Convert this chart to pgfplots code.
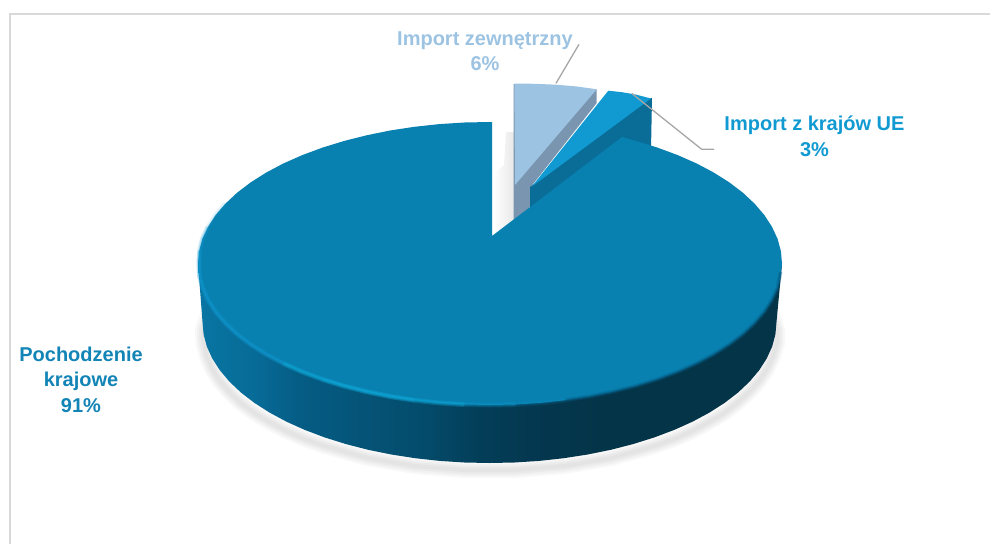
\documentclass[border=0pt]{standalone}
\usepackage{pgfplots}
\pgfplotsset{compat=1.18}
\usepackage{fontspec}
\setmainfont{Liberation Sans}
\definecolor{mainc}{RGB}{8,128,176}
\definecolor{blueC}{RGB}{17,154,210}
\definecolor{blueW}{RGB}{10,109,152}
\definecolor{lightC}{RGB}{157,195,226}
\definecolor{lightW}{RGB}{122,149,176}
\definecolor{leader}{RGB}{166,166,166}
\definecolor{frameC}{RGB}{217,217,217}
\definecolor{labMain}{RGB}{18,132,181}
\definecolor{w0}{RGB}{9,118,163}
\definecolor{w1}{RGB}{7,106,150}
\definecolor{w2}{RGB}{5,92,132}
\definecolor{w3}{RGB}{5,84,120}
\definecolor{w4}{RGB}{4,76,108}
\definecolor{w5}{RGB}{3,62,88}
\definecolor{w6}{RGB}{4,56,80}
\definecolor{w7}{RGB}{4,52,72}
\definecolor{g0}{RGB}{255,255,255}
\definecolor{g1}{RGB}{232,232,232}
\pgfdeclarehorizontalshading{wall}{100bp}{color(0bp)=(w0);color(25bp)=(w0);color(30.3bp)=(w1);color(33.7bp)=(w2);color(38.9bp)=(w3);color(44bp)=(w4);color(49.1bp)=(w5);color(53.4bp)=(w6);color(59.4bp)=(w7);color(100bp)=(w7)}
\pgfdeclarehorizontalshading{gapsh}{100bp}{color(0bp)=(g0);color(25bp)=(g0);color(75bp)=(g1);color(100bp)=(g1)}
\begin{document}
\begin{tikzpicture}
\path (0pt,0pt) rectangle (990pt,544pt);
\begin{axis}[at={(0pt,0pt)},anchor=south west,width=990pt,height=544pt,scale only axis,
  xmin=0,xmax=990,ymin=0,ymax=544,y dir=reverse,hide axis,clip=true]
% frame
\addplot[frameC,line width=1.2pt] coordinates {(10,544) (10,14) (990,14)};
% soft shadow under the pie (both ends run behind the wall)
\pgfplotsinvokeforeach{16,12,8,4}{
\addplot[black,opacity=0.028,line width=#1pt,line join=round] coordinates {
(765,300)(772,315)(777,330)(777,343)(773,356)(767,369)(759,381)(749,392)(737,403)(724,413)(709,422)(692,431)(674,439)(654,446)(633,452)(611,458)(588,462)(564,466)(539,468)(514.6,470)(489.5,470)(464.4,470)(439.7,468)(415.2,466)(391.3,462)(368.2,458)(346,452)(324.9,446)(305,439)(286.5,431)(269.6,422)(254.4,413)(240.9,403)(229.4,392)(219.8,381)(212.3,369)(206.8,356)(203.6,343)(203,330)(208,315)(215,300)};
}
% gap shadow
\addplot[shade,shading=gapsh,draw=none] coordinates {(506,132)(514,132)(514,221)(493,236)(493,180)(496,172)(504,165)} --cycle;
% light slice: wall and face
\addplot[fill=lightW,draw=none] coordinates {(596.7,89.3)(596.7,103)(530,188)(530,207)(515,220)(513.5,220)(513.5,84)} --cycle;
\addplot[fill=lightC,draw=none] coordinates {(514.3,83.5)(535,83.8)(556,84.7)(577,86.5)(596.7,89.3)(515,185)} --cycle;
% blue slice: wall and face
\addplot[fill=blueW,draw=none] coordinates {(652,98)(651,150)(600,180)(530,215)(530,187)(648,99)} --cycle;
\addplot[fill=blueC,draw=none] coordinates {(608.3,90.7)(622,92.2)(636,94.6)(651,98.5)(531.7,186.7)} --cycle;
% main wall
\addplot[shade,shading=wall,draw=none] coordinates {
(198,263.5)(782,263.5)(776.5,322)(775.4,334.3)(772.2,346.5)(766.7,358.5)(759.2,370.2)(749.6,381.6)(738.1,392.5)(724.6,402.9)(709.4,412.6)(692.5,421.7)(674,430)(654.1,437.5)(633,444.1)(610.8,449.8)(587.7,454.5)(563.8,458.2)(539.3,460.9)(514.6,462.5)(489.5,463)(464.4,462.5)(439.7,460.9)(415.2,458.2)(391.3,454.5)(368.2,449.8)(346,444.1)(324.9,437.5)(305,430)(286.5,421.7)(269.6,412.6)(254.4,402.9)(240.9,392.5)(229.4,381.6)(219.8,370.2)(212.3,358.5)(206.8,346.5)(203.6,334.3)(202.5,322)} --cycle;
% main face
\addplot[fill=mainc,draw=none] coordinates {
(622,137)(636,141)(657.5,147.6)(677.7,155.1)(696.5,163.4)(713.7,172.5)(729.2,182.3)(742.9,192.7)(754.6,203.7)(764.4,215.1)(772,226.9)(777.6,238.9)(780.9,251.2)(782,263.5)
(780.9,275.8)(777.6,288.1)(772,300.1)(764.4,311.9)(754.6,323.3)(742.9,334.3)(729.2,344.7)(713.7,354.5)(696.5,363.6)(677.7,371.9)(657.5,379.4)(636,386)(613.4,391.7)(589.9,396.5)(565.6,400.2)(540.7,402.9)(515.5,404.5)(490,405)
(464.5,404.5)(439.3,402.9)(414.4,400.2)(390.1,396.5)(366.6,391.7)(344,386)(322.5,379.4)(302.3,371.9)(283.5,363.6)(266.3,354.5)(250.8,344.7)(237.1,334.3)(225.4,323.3)(215.6,311.9)(208,300.1)(202.4,288.1)(199.1,275.8)(198,263.5)
(199.1,251.2)(202.4,238.9)(208,226.9)(215.6,215.1)(225.4,203.7)(237.1,192.7)(250.8,182.3)(266.3,172.5)(283.5,163.4)(302.3,155.1)(322.5,147.6)(344,141)(366.6,135.3)(390.1,130.5)(414.4,126.8)(439.3,124.1)(464.5,122.5)(490,122)(492,122)(492,236)} --cycle;
% bevel along the front rim: right, dark
\pgfplotsinvokeforeach{4,2.5,1.2}{
\addplot[color=w2,opacity=0.3,line width=#1pt] coordinates {(780.5,272)(777.6,288.1)(772,300.1)(764.4,311.9)(754.6,323.3)(742.9,334.3)(729.2,344.7)(713.7,354.5)(696.5,363.6)(677.7,371.9)(657.5,379.4)(636,386)(613.4,391.7)(589.9,396.5)(565.6,400.2)};
}
% bevel: left, light, opacity graded along the arc
\pgfplotsinvokeforeach{5,3,1.5}{
\addplot[color=blueC,opacity=0.08,line width=#1pt] coordinates {(225.4,203.7)(215.6,215.1)(208,226.9)};
\addplot[color=blueC,opacity=0.18,line width=#1pt] coordinates {(208,226.9)(202.4,238.9)(199.6,251.2)};
\addplot[color=blueC,opacity=0.3,line width=#1pt] coordinates {(199.6,251.2)(199,263.5)(199.6,275.8)(202.8,288.1)(208,300.1)(215.6,311.9)(225.4,323.3)(237.1,334.3)(250.8,344.7)(266.3,354.5)(283.5,363.6)};
\addplot[color=blueC!85!cyan,opacity=0.36,line width=#1pt] coordinates {(283.5,363.6)(302.3,371.9)(322.5,379.4)};
\addplot[color=blueC!85!cyan,opacity=0.42,line width=#1pt] coordinates {(322.5,379.4)(344,386)(366.6,391.7)(390.1,396.5)(414.4,400.2)};
\addplot[color=blueC!85!cyan,opacity=0.32,line width=#1pt] coordinates {(414.4,400.2)(439.3,402.9)(464.5,404.5)};
\addplot[color=blueC,opacity=0.2,line width=#1pt] coordinates {(464.5,404.5)(490,405)(515.5,404.5)};
\addplot[color=blueC,opacity=0.1,line width=#1pt] coordinates {(515.5,404.5)(540.7,402.9)(565.6,400.2)};
}
% leaders
\addplot[leader,line width=1.3pt] coordinates {(579,44.3)(556,83.3)};
\addplot[leader,line width=1.3pt] coordinates {(631.7,93.3)(701.7,149.3)(714,149.3)};
% labels
\node[font=\fontsize{20}{25.5}\selectfont\bfseries,text=lightC,align=center,anchor=center] at (axis cs:485,51) {Import zewnętrzny\\6\%};
\node[font=\fontsize{20}{25.5}\selectfont\bfseries,text=blueC,align=center,anchor=center] at (axis cs:814.5,136.5) {Import z krajów UE\\3\%};
\node[font=\fontsize{20}{25.5}\selectfont\bfseries,text=labMain,align=center,anchor=center] at (axis cs:81,379.5) {Pochodzenie\\krajowe\\91\%};
\end{axis}
\end{tikzpicture}
\end{document}
